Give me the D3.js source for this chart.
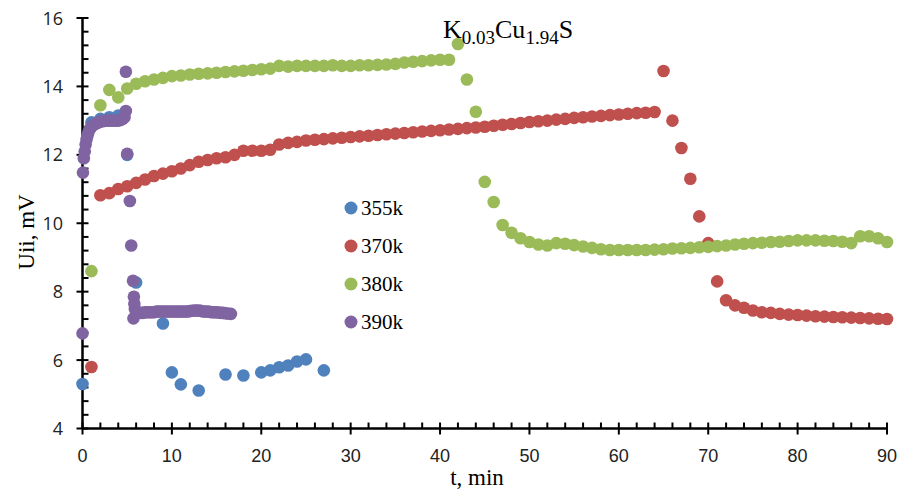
<!DOCTYPE html>
<html>
<head>
<meta charset="utf-8">
<script src="https://cdn.jsdelivr.net/npm/d3@7"></script>
<style>
  body { margin: 0; background: #fff; }
  svg { display: block; }
</style>
</head>
<body>
<svg id="chart" width="901" height="490"></svg>
<script>
// series names and colours
var seriesNames = ["355k", "370k", "380k", "390k"];
var seriesColors = ["#4F81BD", "#C0504D", "#9BBB59", "#8064A2"];

// 355k : [t, Uii]
var s355 = [
  [0, 5.3], [1, 12.95], [2, 13.05], [3, 13.1], [4, 13.15], [5, 12.0], [6, 8.27],
  [9, 7.07], [10, 5.64], [11, 5.29], [13, 5.11], [16, 5.58], [18, 5.55],
  [20, 5.64], [21, 5.7], [22, 5.79], [23, 5.84], [24, 5.96], [25, 6.02], [27, 5.7]
];

// 370k
var s370 = [
  [1, 5.8], [2, 10.82], [3, 10.88], [4, 11.0], [5, 11.08], [6, 11.18], [7, 11.28],
  [8, 11.38], [9, 11.45], [10, 11.52], [11, 11.6], [12, 11.7], [13, 11.8], [14, 11.85],
  [15, 11.9], [16, 11.93], [17, 12.0], [18, 12.12], [19, 12.12], [20, 12.12], [21, 12.15],
  [22, 12.3], [23, 12.35], [24, 12.38], [25, 12.42], [26, 12.44], [27, 12.46], [28, 12.48],
  [29, 12.5], [30, 12.52], [31, 12.54], [32, 12.56], [33, 12.58], [34, 12.6], [35, 12.62],
  [36, 12.64], [37, 12.66], [38, 12.68], [39, 12.7], [40, 12.72], [41, 12.74], [42, 12.76],
  [43, 12.78], [44, 12.8], [45, 12.82], [46, 12.85], [47, 12.88], [48, 12.9], [49, 12.93],
  [50, 12.96], [51, 12.98], [52, 13.0], [53, 13.03], [54, 13.05], [55, 13.08], [56, 13.1],
  [57, 13.12], [58, 13.14], [59, 13.16], [60, 13.18], [61, 13.2], [62, 13.22], [63, 13.23],
  [64, 13.25], [65, 14.45], [66, 13.0], [67, 12.2], [68, 11.3], [69, 10.2], [70, 9.42],
  [71, 8.3], [72, 7.75], [73, 7.6], [74, 7.53], [75, 7.45], [76, 7.4], [77, 7.38],
  [78, 7.35], [79, 7.33], [80, 7.32], [81, 7.3], [82, 7.28], [83, 7.27], [84, 7.26],
  [85, 7.25], [86, 7.24], [87, 7.23], [88, 7.22], [89, 7.21], [90, 7.2]
];

// 380k
var s380 = [
  [1, 8.6], [2, 13.45], [3, 13.9], [4, 13.68], [5, 13.94], [6, 14.08], [7, 14.15],
  [8, 14.2], [9, 14.25], [10, 14.3], [11, 14.32], [12, 14.35], [13, 14.37], [14, 14.38],
  [15, 14.4], [16, 14.42], [17, 14.44], [18, 14.46], [19, 14.48], [20, 14.5], [21, 14.52],
  [22, 14.6], [23, 14.58], [24, 14.6], [25, 14.6], [26, 14.6], [27, 14.6], [28, 14.62],
  [29, 14.6], [30, 14.6], [31, 14.62], [32, 14.62], [33, 14.63], [34, 14.64], [35, 14.66],
  [36, 14.7], [37, 14.72], [38, 14.74], [39, 14.76], [40, 14.78], [41, 14.78], [42, 15.24],
  [43, 14.2], [44, 13.26], [45, 11.21], [46, 10.62], [47, 9.95], [48, 9.72], [49, 9.56],
  [50, 9.45], [51, 9.38], [52, 9.35], [53, 9.42], [54, 9.4], [55, 9.36], [56, 9.32],
  [57, 9.28], [58, 9.24], [59, 9.22], [60, 9.22], [61, 9.22], [62, 9.22], [63, 9.22],
  [64, 9.23], [65, 9.24], [66, 9.26], [67, 9.27], [68, 9.28], [69, 9.3], [70, 9.31],
  [71, 9.33], [72, 9.35], [73, 9.38], [74, 9.4], [75, 9.42], [76, 9.43], [77, 9.45],
  [78, 9.46], [79, 9.48], [80, 9.5], [81, 9.5], [82, 9.5], [83, 9.49], [84, 9.48],
  [85, 9.46], [86, 9.42], [87, 9.62], [88, 9.62], [89, 9.56], [90, 9.45]
];

// 390k (sampled more densely)
var s390 = [
  [0, 6.78], [0.05, 11.48], [0.15, 11.9], [0.25, 12.1], [0.35, 12.3], [0.45, 12.45],
  [0.55, 12.55], [0.65, 12.65], [0.8, 12.75], [1.0, 12.82], [1.2, 12.87], [1.4, 12.9],
  [1.6, 12.93], [1.8, 12.95], [2.0, 12.97], [2.25, 12.98], [2.5, 13.0], [2.75, 13.0],
  [3.0, 13.0], [3.25, 13.0], [3.5, 13.0], [3.75, 13.0], [4.0, 13.0], [4.25, 13.02],
  [4.5, 13.05], [4.7, 13.1], [4.85, 13.28], [4.85, 14.43], [5.0, 12.03], [5.3, 10.65],
  [5.45, 9.35], [5.65, 8.32], [5.75, 7.85], [5.8, 7.65], [5.85, 7.5], [5.7, 7.22],
  [6.0, 7.4], [6.25, 7.38], [6.5, 7.38], [6.75, 7.38], [7.0, 7.4], [7.25, 7.4],
  [7.5, 7.4], [7.75, 7.4], [8.0, 7.4], [8.25, 7.42], [8.5, 7.42], [8.75, 7.42],
  [9.0, 7.42], [9.25, 7.42], [9.5, 7.42], [9.75, 7.42], [10.0, 7.42], [10.25, 7.42],
  [10.5, 7.42], [10.75, 7.42], [11.0, 7.42], [11.25, 7.42], [11.5, 7.42], [11.75, 7.42],
  [12.0, 7.43], [12.25, 7.44], [12.5, 7.45], [12.75, 7.45], [13.0, 7.45], [13.25, 7.44],
  [13.5, 7.42], [13.75, 7.42], [14.0, 7.42], [14.25, 7.41], [14.5, 7.4], [14.75, 7.4],
  [15.0, 7.4], [15.25, 7.39], [15.5, 7.38], [15.75, 7.38], [16.0, 7.37], [16.25, 7.36],
  [16.6, 7.35]
];

var allSeries = [s355, s370, s380, s390];

// axis ticks
var xTicks = [0, 10, 20, 30, 40, 50, 60, 70, 80, 90];
var yTicks = [4, 6, 8, 10, 12, 14, 16];

var svg = d3.select("#chart");

var x = d3.scaleLinear().domain([0, 90]).range([82.5, 887]);
var y = d3.scaleLinear().domain([4, 16]).range([428.5, 18]);

// minor ticks (inside only)
var xMinor = d3.range(0, 90.01, 2).filter(function (v) { return v % 10 !== 0; });
var yMinor = d3.range(4, 16.01, 0.4).filter(function (v) { return Math.abs(v - Math.round(v / 2) * 2) > 0.01; });

var axes = svg.append("g").attr("stroke", "#000");

axes.selectAll(".xminor").data(xMinor).enter().append("line")
    .attr("x1", function (d) { return x(d); })
    .attr("x2", function (d) { return x(d); })
    .attr("y1", y(4)).attr("y2", y(4) - 6)
    .attr("stroke-width", 2);

axes.selectAll(".yminor").data(yMinor).enter().append("line")
    .attr("y1", function (d) { return y(d); })
    .attr("y2", function (d) { return y(d); })
    .attr("x1", x(0)).attr("x2", x(0) + 6)
    .attr("stroke-width", 2);

// major ticks cross the axis
axes.selectAll(".xmajor").data(xTicks).enter().append("line")
    .attr("x1", function (d) { return x(d); })
    .attr("x2", function (d) { return x(d); })
    .attr("y1", y(4) - 6).attr("y2", y(4) + 6)
    .attr("stroke-width", 2);

axes.selectAll(".ymajor").data(yTicks).enter().append("line")
    .attr("y1", function (d) { return y(d); })
    .attr("y2", function (d) { return y(d); })
    .attr("x1", x(0) - 6).attr("x2", x(0) + 6)
    .attr("stroke-width", 2);

axes.append("line").attr("x1", x(0)).attr("x2", x(90)).attr("y1", y(4)).attr("y2", y(4)).attr("stroke-width", 2.5);
axes.append("line").attr("x1", x(0)).attr("x2", x(0)).attr("y1", y(4)).attr("y2", y(16)).attr("stroke-width", 2.5);

// tick labels
svg.selectAll(".xlab").data(xTicks).enter().append("text")
    .attr("x", function (d) { return x(d); })
    .attr("y", 462)
    .attr("text-anchor", "middle")
    .style("font-family", "'Liberation Sans Narrow', 'Liberation Sans', Arial, sans-serif")
    .style("font-size", "18px")
    .attr("fill", "#222")
    .text(function (d) { return d; });

svg.selectAll(".ylab").data(yTicks).enter().append("text")
    .attr("x", 63)
    .attr("y", function (d) { return y(d) + 6.5; })
    .attr("text-anchor", "end")
    .style("font-family", "'Open Sans', 'Liberation Sans', sans-serif")
    .style("font-size", "18px")
    .attr("fill", "#222")
    .text(function (d) { return d; });

// axis titles
svg.append("text")
    .attr("x", 477).attr("y", 485)
    .attr("text-anchor", "middle")
    .style("font-family", "'Liberation Serif', 'Times New Roman', serif")
    .style("font-size", "23px")
    .text("t, min");

svg.append("text")
    .attr("transform", "translate(34,232) rotate(-90)")
    .attr("text-anchor", "middle")
    .style("font-family", "'Liberation Serif', 'Times New Roman', serif")
    .style("font-size", "23px")
    .text("Uii, mV");

// points
allSeries.forEach(function (data, i) {
    svg.append("g")
        .selectAll("circle")
        .data(data)
        .enter()
        .append("circle")
        .attr("cx", function (d) { return x(d[0]); })
        .attr("cy", function (d) { return y(d[1]); })
        .attr("r", 6.3)
        .attr("fill", seriesColors[i]);
});

// title with subscripts
var title = svg.append("text")
    .attr("x", 443).attr("y", 38)
    .style("font-family", "'Liberation Serif', 'Times New Roman', serif")
    .style("font-size", "26px");
title.append("tspan").text("K");
title.append("tspan").attr("dy", 6).style("font-size", "19px").text("0.03");
title.append("tspan").attr("dy", -6).text("Cu");
title.append("tspan").attr("dy", 6).style("font-size", "19px").text("1.94");
title.append("tspan").attr("dy", -6).text("S");

// legend
var legend = svg.append("g").selectAll("g")
    .data(seriesNames)
    .enter()
    .append("g")
    .attr("transform", function (d, i) { return "translate(351," + (208 + i * 38) + ")"; });

legend.append("circle").attr("r", 6.5).attr("fill", function (d, i) { return seriesColors[i]; });
legend.append("text")
    .attr("x", 10).attr("y", 7)
    .style("font-family", "'Liberation Serif', 'Times New Roman', serif")
    .style("font-size", "21px")
    .text(function (d) { return d; });
</script>
</body>
</html>
